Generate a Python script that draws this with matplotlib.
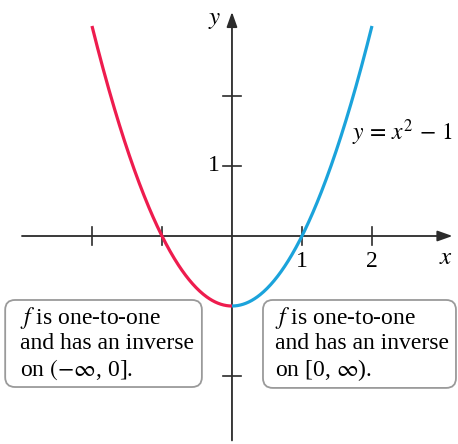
import numpy as np
import matplotlib
matplotlib.use("Agg")
import matplotlib.pyplot as plt
from matplotlib.patches import FancyBboxPatch

plt.rcParams["font.family"] = ["Liberation Serif", "DejaVu Serif"]
plt.rcParams["mathtext.fontset"] = "stix"

# Function y = x^2 - 1, split at the vertex
x_left = np.linspace(-2.0, 0.0, 200)
x_right = np.linspace(0.0, 2.0, 200)
y_left = x_left**2 - 1
y_right = x_right**2 - 1

x_ticks = [-2, -1, 1, 2]
y_ticks = [-2, 1, 2]
x_tick_labels = {1: "1", 2: "2"}
y_tick_labels = {1: "1"}

red = "#EE1C4E"
blue = "#1BA3DB"
axis_color = "#2b2b2b"

fig = plt.figure(figsize=(4.58, 4.44), dpi=100)
ax = fig.add_axes([0, 0, 1, 1])
ax.set_xlim(-3.314, 3.229)
ax.set_ylim(-2.971, 3.371)
ax.axis("off")

# Axes with arrowheads
arrow = dict(arrowstyle="-|>,head_length=0.9,head_width=0.32", lw=1.3,
             color=axis_color, shrinkA=0, shrinkB=0)
ax.annotate("", xy=(3.15, 0), xytext=(-3.0, 0), arrowprops=arrow)
ax.annotate("", xy=(0, 3.2), xytext=(0, -2.92), arrowprops=arrow)

tick_half = 0.13
for t in x_ticks:
    ax.plot([t, t], [-tick_half, tick_half], color=axis_color, lw=1.2)
for t in y_ticks:
    ax.plot([-tick_half, tick_half], [t, t], color=axis_color, lw=1.2)

fs = 17
for t, s in x_tick_labels.items():
    ax.text(t, -0.22, s, ha="center", va="top", fontsize=fs)
for t, s in y_tick_labels.items():
    ax.text(-0.18, t, s, ha="right", va="center", fontsize=fs)
ax.text(3.06, -0.15, r"$x$", ha="center", va="top", fontsize=fs + 1)
ax.text(-0.15, 3.09, r"$y$", ha="right", va="center", fontsize=fs + 1)

# Curve
ax.plot(x_left, y_left, color=red, lw=2.3, solid_capstyle="butt", zorder=3)
ax.plot(x_right, y_right, color=blue, lw=2.3, solid_capstyle="butt", zorder=3)

ax.text(1.71, 1.47, r"$y\,=\,x^2\,-\,1$", ha="left", va="center", fontsize=fs)

# Annotation boxes
def note(x0, x1, y0, y1, lines, tx):
    box = FancyBboxPatch((x0, y0), x1 - x0, y1 - y0,
                         boxstyle="round,pad=0,rounding_size=0.14",
                         facecolor="white", edgecolor="#9a9a9a", lw=1.3, zorder=4)
    ax.add_patch(box)
    ys = [-1.17, -1.54, -1.91]
    for yy, s in zip(ys, lines):
        ax.text(tx, yy, s, ha="left", va="center", fontsize=fs, zorder=5)

note(-3.24, -0.43, -2.157, -0.914,
     [r"$f$ is one-to-one", "and has an inverse", r"on $(-\infty$, 0]."], -3.03)
note(0.443, 3.20, -2.17, -0.914,
     [r"$f$ is one-to-one", "and has an inverse", r"on [0, $\infty$)."], 0.614)

fig.savefig("out.png", dpi=100)
